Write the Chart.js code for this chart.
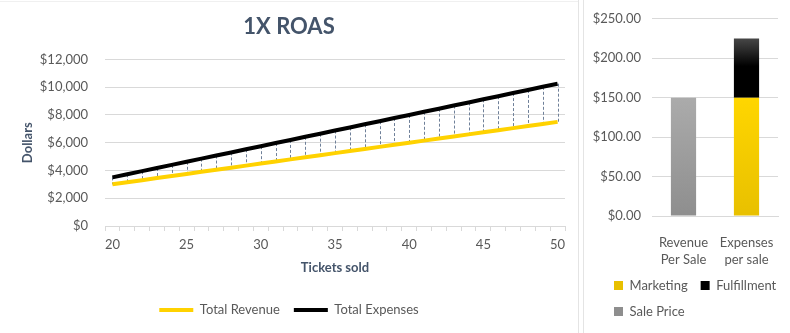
<!DOCTYPE html>
<html>
<head>
<meta charset="utf-8">
<title>1X ROAS</title>
<script src="https://cdn.jsdelivr.net/npm/chart.js@4.4.1/dist/chart.umd.min.js"></script>
<style>
  html, body { margin: 0; padding: 0; background: #ffffff; }
  body { width: 790px; height: 333px; position: relative; overflow: hidden; }
  canvas { position: absolute; top: 0; display: block; }
  #roas-chart { left: 0; }
  #per-sale-chart { left: 583px; }
  .edge { position: absolute; background: #e4e4e4; }
</style>
</head>
<body>
<div class="edge" style="left:578px; top:0; width:1px; height:333px;"></div>
<div class="edge" style="left:583px; top:0; width:1px; height:333px;"></div>
<div class="edge" style="left:0; top:1px; width:578px; height:1px; background:#f0f0f0;"></div>
<canvas id="roas-chart" width="578" height="333"></canvas>
<canvas id="per-sale-chart" width="207" height="333"></canvas>
<script>
// --- left chart data ---
const tickets = [20, 21, 22, 23, 24, 25, 26, 27, 28, 29, 30, 31, 32, 33, 34, 35,
  36, 37, 38, 39, 40, 41, 42, 43, 44, 45, 46, 47, 48, 49, 50];
const totalRevenue = [3000, 3150, 3300, 3450, 3600, 3750, 3900, 4050, 4200, 4350, 4500,
  4650, 4800, 4950, 5100, 5250, 5400, 5550, 5700, 5850, 6000, 6150, 6300, 6450, 6600,
  6750, 6900, 7050, 7200, 7350, 7500];
const totalExpenses = [3500, 3725, 3950, 4175, 4400, 4625, 4850, 5075, 5300, 5525, 5750,
  5975, 6200, 6425, 6650, 6875, 7100, 7325, 7550, 7775, 8000, 8225, 8450, 8675, 8900,
  9125, 9350, 9575, 9800, 10025, 10250];
const ticketTicks = [20, 25, 30, 35, 40, 45, 50];
const dollarTicks = [0, 2000, 4000, 6000, 8000, 10000, 12000];

// --- right chart data ---
const perSaleLabels = [['Revenue', 'Per Sale'], ['Expenses', 'per sale']];
const marketingPerSale = [null, 150];
const fulfillmentPerSale = [null, 75];
const salePricePerSale = [150, null];
const perSaleTicks = [0, 50, 100, 150, 200, 250];

const YELLOW = '#FFD200';
const GRID = '#d9d9d9';
const TICK_TEXT = '#595959';
const TITLE_TEXT = '#44546A';

Chart.defaults.font.family = 'Lato, "Open Sans", sans-serif';
Chart.defaults.font.size = 13;
Chart.defaults.color = TICK_TEXT;

// dashed drop lines between the two series
const dropLines = {
  id: 'dropLines',
  beforeDatasetsDraw(chart) {
    const { ctx, scales: { x, y } } = chart;
    ctx.save();
    ctx.strokeStyle = '#6f8099';
    ctx.lineWidth = 1;
    ctx.setLineDash([3, 2]);
    tickets.forEach((t, i) => {
      const px = Math.round(x.getPixelForValue(t)) + 0.5;
      ctx.beginPath();
      ctx.moveTo(px, y.getPixelForValue(totalExpenses[i]));
      ctx.lineTo(px, y.getPixelForValue(totalRevenue[i]));
      ctx.stroke();
    });
    ctx.restore();
  }
};

// nudge the per-sale legend to the right without narrowing it
const legendIndent = {
  id: 'legendIndent',
  afterLayout(chart, args, opts) {
    if (chart.legend) chart.legend.left += opts.by || 0;
  }
};

// empty right-hand axis, only used to keep space at the right of the plot
function spacerAxis(width) {
  return {
    type: 'linear',
    position: 'right',
    display: true,
    ticks: { display: false },
    grid: { display: false },
    border: { display: false },
    afterFit: (scale) => { scale.width = width; }
  };
}

new Chart(document.getElementById('roas-chart'), {
  type: 'line',
  data: {
    datasets: [
      {
        label: 'Total Revenue',
        data: tickets.map((t, i) => ({ x: t, y: totalRevenue[i] })),
        borderColor: YELLOW,
        backgroundColor: YELLOW,
        borderWidth: 4,
        pointRadius: 0,
        tension: 0
      },
      {
        label: 'Total Expenses',
        data: tickets.map((t, i) => ({ x: t, y: totalExpenses[i] })),
        borderColor: '#000000',
        backgroundColor: '#000000',
        borderWidth: 4,
        pointRadius: 0,
        tension: 0
      }
    ]
  },
  options: {
    responsive: false,
    animation: false,
    layout: { padding: { left: 0, right: 0, top: 0, bottom: 6.5 } },
    plugins: {
      title: {
        display: true,
        text: '1X ROAS',
        color: TITLE_TEXT,
        font: { size: 22, weight: 'bold' },
        padding: { top: 14, bottom: 19 }
      },
      legend: {
        position: 'bottom',
        labels: {
          usePointStyle: true,
          pointStyle: 'line',
          pointStyleWidth: 34,
          padding: 14,
          color: TICK_TEXT,
          font: { size: 13 }
        }
      },
      tooltip: { enabled: false }
    },
    scales: {
      x: {
        type: 'linear',
        min: 19.5,
        max: 50.5,
        afterBuildTicks: (scale) => {
          // labels at ticketTicks, small marks between categories
          const ticks = ticketTicks.map(v => ({ value: v }));
          tickets.forEach(t => ticks.push({ value: t - 0.5 }));
          ticks.push({ value: tickets[tickets.length - 1] + 0.5 });
          scale.ticks = ticks.sort((a, b) => a.value - b.value);
        },
        afterFit: (scale) => { scale.height = 63.5; },
        ticks: {
          autoSkip: false,
          maxRotation: 0,
          padding: 6,
          color: TICK_TEXT,
          callback: (value) => ticketTicks.includes(value) ? String(value) : ''
        },
        grid: {
          drawOnChartArea: false,
          drawTicks: true,
          tickLength: 5,
          tickColor: (c) => (c.tick && Number.isInteger(c.tick.value)) ? 'rgba(0,0,0,0)' : GRID
        },
        border: { display: true, color: GRID },
        title: {
          display: true,
          text: 'Tickets sold',
          color: TITLE_TEXT,
          font: { size: 13, weight: 'bold' },
          padding: { top: 0, bottom: 14 }
        }
      },
      y: {
        min: 0,
        max: 12000,
        afterBuildTicks: (scale) => { scale.ticks = dollarTicks.map(v => ({ value: v })); },
        afterFit: (scale) => { scale.width = 105; },
        ticks: {
          padding: 17,
          color: TICK_TEXT,
          callback: (value) => '$' + value.toLocaleString('en-US')
        },
        grid: { color: GRID, drawTicks: false },
        border: { display: false },
        title: {
          display: true,
          text: 'Dollars',
          color: TITLE_TEXT,
          font: { size: 13, weight: 'bold' },
          padding: { top: 20, bottom: 0 }
        }
      },
      yPad: spacerAxis(13)
    }
  },
  plugins: [dropLines]
});

// vertical gradients for the per-sale bars
function barFill(solid, stops) {
  return (c) => {
    const { chart } = c;
    const area = chart.chartArea;
    if (c.type !== 'data' || !area) return solid;
    const g = chart.ctx.createLinearGradient(0, area.top, 0, area.bottom);
    stops.forEach(([pos, col]) => g.addColorStop(pos, col));
    return g;
  };
}

new Chart(document.getElementById('per-sale-chart'), {
  type: 'bar',
  data: {
    labels: perSaleLabels,
    datasets: [
      {
        label: 'Marketing',
        data: marketingPerSale,
        backgroundColor: barFill(YELLOW, [[0.4, '#FFD600'], [1, '#E8C000']]),
        stack: 'sale'
      },
      {
        label: 'Fulfillment',
        data: fulfillmentPerSale,
        backgroundColor: barFill('#000000', [[0.1, '#474747'], [0.24, '#000000'], [1, '#000000']]),
        stack: 'sale'
      },
      {
        label: 'Sale Price',
        data: salePricePerSale,
        backgroundColor: barFill('#A6A6A6', [[0.4, '#ABABAB'], [1, '#8E8E8E']]),
        stack: 'sale'
      }
    ]
  },
  options: {
    responsive: false,
    animation: false,
    layout: { padding: { left: 0, right: 0, top: 15, bottom: 5 } },
    datasets: {
      bar: { categoryPercentage: 0.8, barPercentage: 0.5, borderWidth: 0 }
    },
    plugins: {
      legend: {
        position: 'bottom',
        align: 'start',
        labels: {
          boxWidth: 9,
          boxHeight: 9,
          padding: 13,
          color: TICK_TEXT,
          font: { size: 13 }
        }
      },
      legendIndent: { by: 18 },
      tooltip: { enabled: false }
    },
    scales: {
      x: {
        stacked: true,
        afterFit: (scale) => { scale.height = 50; },
        ticks: {
          maxRotation: 0,
          padding: 10,
          color: TICK_TEXT,
          font: { size: 13, lineHeight: 1.3 }
        },
        grid: { display: false },
        border: { display: true, color: GRID }
      },
      y: {
        stacked: true,
        min: 0,
        max: 250,
        afterBuildTicks: (scale) => { scale.ticks = perSaleTicks.map(v => ({ value: v })); },
        afterFit: (scale) => { scale.width = 69; },
        ticks: {
          padding: 11,
          color: TICK_TEXT,
          callback: (value) => '$' + value.toFixed(2)
        },
        grid: { color: GRID, drawTicks: false },
        border: { display: false }
      },
      yPad: spacerAxis(12)
    }
  },
  plugins: [legendIndent]
});
</script>
</body>
</html>
